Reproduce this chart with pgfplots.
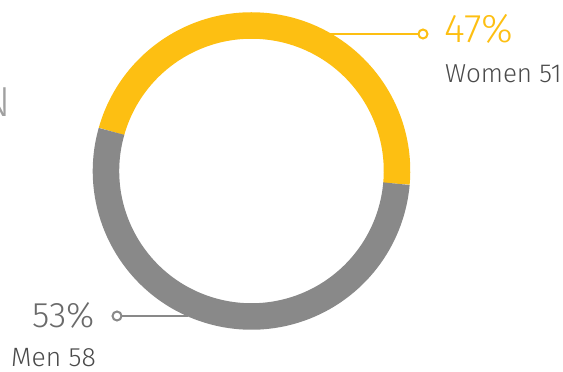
\documentclass[border=0pt]{standalone}
\usepackage{pgfplots}
\usepackage{pgfplotstable}
\pgfplotsset{compat=1.18}
\usepackage{fontspec}
\setmainfont{Fira Sans Light}
\definecolor{ringY}{HTML}{FDBF12}
\definecolor{ringG}{HTML}{898989}
\definecolor{txtA}{HTML}{4A4A4A}
\definecolor{txtB}{HTML}{6A6A6A}
\definecolor{txtC}{HTML}{A0A0A0}
\pgfplotstableread{
label   pct  count
Women   47   51
Men     53   58
}\gendertable
\begin{document}
\begin{tikzpicture}
\pgfplotstablegetelem{0}{pct}\of\gendertable \let\pW\pgfplotsretval
\pgfplotstablegetelem{1}{pct}\of\gendertable \let\pM\pgfplotsretval
\pgfmathsetmacro{\aS}{-5}
\pgfmathsetmacro{\aM}{\aS+3.6*\pW}
\pgfmathsetmacro{\aE}{\aM+3.6*\pM}
\begin{axis}[
  hide axis, scale only axis,
  width=563pt, height=372pt,
  xmin=0, xmax=563, ymin=0, ymax=372, y dir=reverse,
  clip=false,
]
\coordinate (bl) at (axis cs:0,372);
\coordinate (tr) at (axis cs:563,0);
% ring
\draw[ringY, line width=26.5pt] (axis cs:251.5,171) ++(\aS:145.5pt) arc[start angle=\aS, end angle=\aM, radius=145.5pt];
\draw[ringG, line width=26.5pt] (axis cs:251.5,171) ++(\aM:145.5pt) arc[start angle=\aM, end angle=\aE, radius=145.5pt];
% connectors
\addplot[ringY, line width=2pt, mark=*, mark size=4.5pt, mark indices={2},
  mark options={fill=white, line width=2pt}] coordinates {(330,34) (423,34)};
\addplot[ringG, line width=2pt, mark=*, mark size=4.5pt, mark indices={2},
  mark options={fill=white, line width=2pt}] coordinates {(188,316) (117,316)};
% labels
\node[anchor=base west, inner sep=0pt, text=ringY, font=\fontsize{40}{40}\selectfont] at (axis cs:444,42) {\pW\%};
\node[anchor=base west, inner sep=0pt, text=txtA, font=\fontsize{26}{26}\selectfont] at (axis cs:445,82) {Women 51};
\node[anchor=base east, inner sep=0pt, text=txtB, font=\fontsize{35.5}{35.5}\selectfont] at (axis cs:95,327) {\pM\%};
\node[anchor=base east, inner sep=0pt, text=txtA, font=\fontsize{26.5}{26.5}\selectfont] at (axis cs:96,366.5) {Men 58};
\node[anchor=base east, inner sep=0pt, text=txtC, font=\fontsize{42}{42}\selectfont] at (axis cs:11,116) {N};
\end{axis}
\pgfresetboundingbox
\useasboundingbox (bl) rectangle (tr);
\end{tikzpicture}
\end{document}
